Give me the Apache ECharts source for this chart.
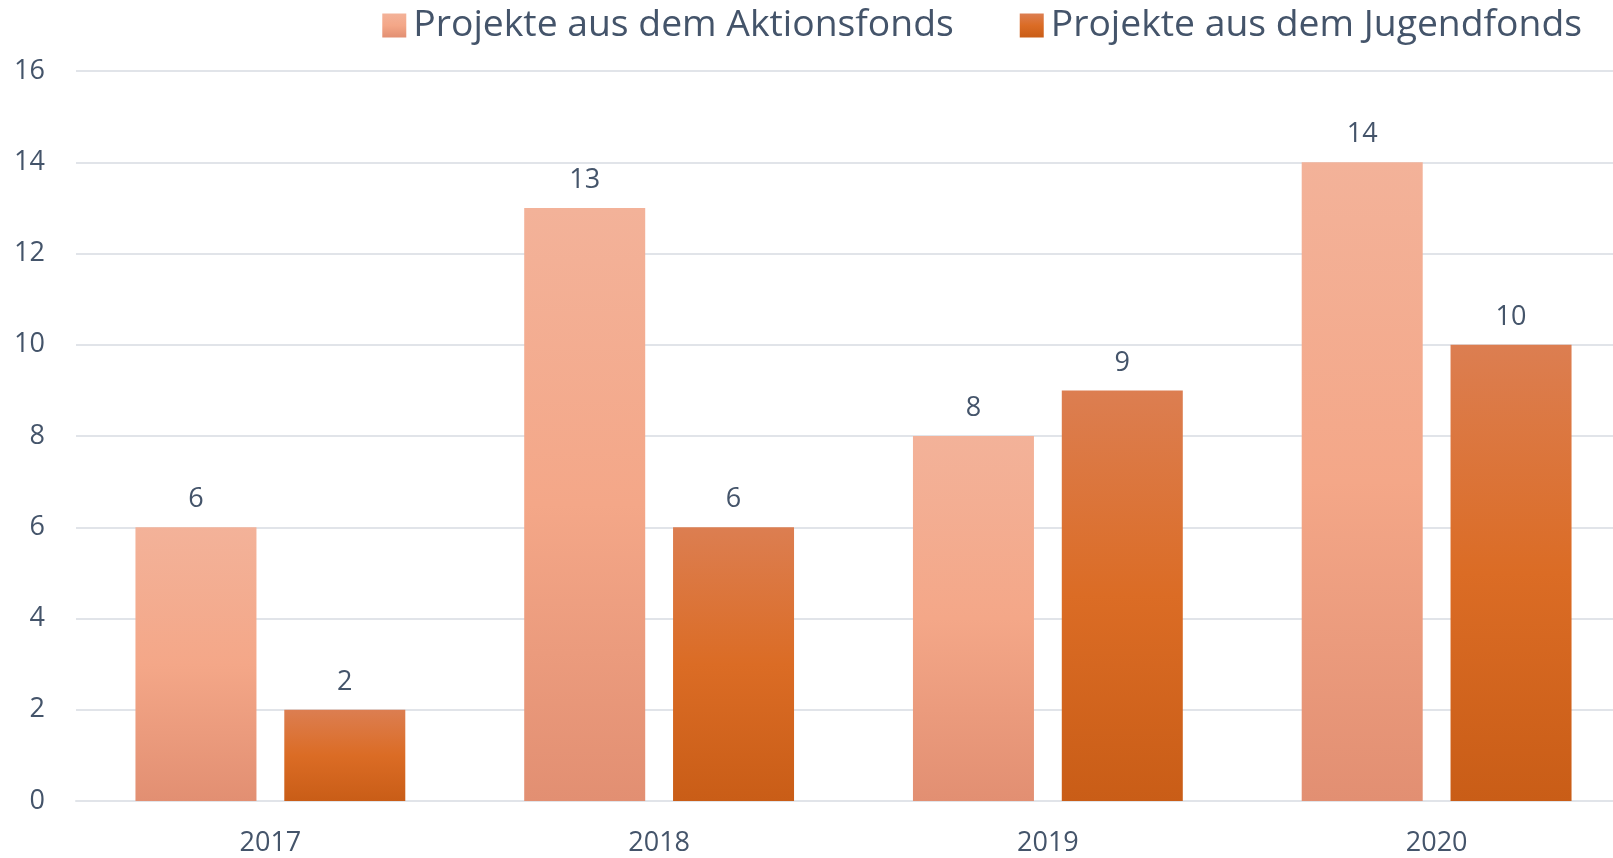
<!DOCTYPE html>
<html>
<head>
<meta charset="utf-8">
<script src="https://cdn.jsdelivr.net/npm/echarts@6/dist/echarts.min.js"></script>
<style>
html,body{margin:0;padding:0;background:#fff;}
#chart{width:1613px;height:858px;}
</style>
</head>
<body>
<div id="chart"></div>
<script>
const categories = ['2017', '2018', '2019', '2020'];
const seriesNames = ['Projekte aus dem Aktionsfonds', 'Projekte aus dem Jugendfonds'];
const aktionsfonds = [6, 13, 8, 14];
const jugendfonds = [2, 6, 9, 10];

const textColor = '#44546A';
const fontFamily = '"Open Sans", "Noto Sans", sans-serif';

function grad(top, mid, bottom) {
  return new echarts.graphic.LinearGradient(0, 0, 0, 1, [
    {offset: 0, color: top},
    {offset: 0.5, color: mid},
    {offset: 1, color: bottom}
  ]);
}

const chart = echarts.init(document.getElementById('chart'));
chart.setOption({
  animation: false,
  backgroundColor: '#fff',
  textStyle: {fontFamily: fontFamily},
  legend: {
    top: 2,
    right: 26,
    itemWidth: 24,
    itemHeight: 24,
    itemGap: 66,
    icon: 'rect',
    textStyle: {fontSize: 37.3, color: textColor, fontFamily: fontFamily, padding: [0, 0, 0, 2]},
    data: seriesNames
  },
  grid: {left: 76, width: 1555, top: 71, bottom: 57, containLabel: false, outerBoundsMode: 'none'},
  xAxis: {
    type: 'category',
    data: categories,
    axisLine: {show: true, lineStyle: {color: '#E1E4E9', width: 2}},
    axisTick: {show: false},
    axisLabel: {color: textColor, fontSize: 27, margin: 29, fontFamily: fontFamily}
  },
  yAxis: {
    type: 'value',
    min: 0,
    max: 16,
    interval: 2,
    axisLine: {show: false},
    axisTick: {show: false},
    axisLabel: {color: textColor, fontSize: 27, margin: 31, fontFamily: fontFamily},
    splitLine: {lineStyle: {color: '#E1E4E9', width: 2}}
  },
  series: [
    {
      name: seriesNames[0],
      type: 'bar',
      data: aktionsfonds,
      barWidth: 121,
      barGap: '23%',
      itemStyle: {color: grad('#F3B299', '#F4A788', '#E28F72')},
      label: {show: true, position: 'top', distance: 14, color: textColor, fontSize: 27, fontFamily: fontFamily}
    },
    {
      name: seriesNames[1],
      type: 'bar',
      data: jugendfonds,
      barWidth: 121,
      barGap: '23%',
      itemStyle: {color: grad('#DC7E51', '#DB6C25', '#C95D17')},
      label: {show: true, position: 'top', distance: 14, color: textColor, fontSize: 27, fontFamily: fontFamily}
    }
  ]
});
</script>
</body>
</html>
